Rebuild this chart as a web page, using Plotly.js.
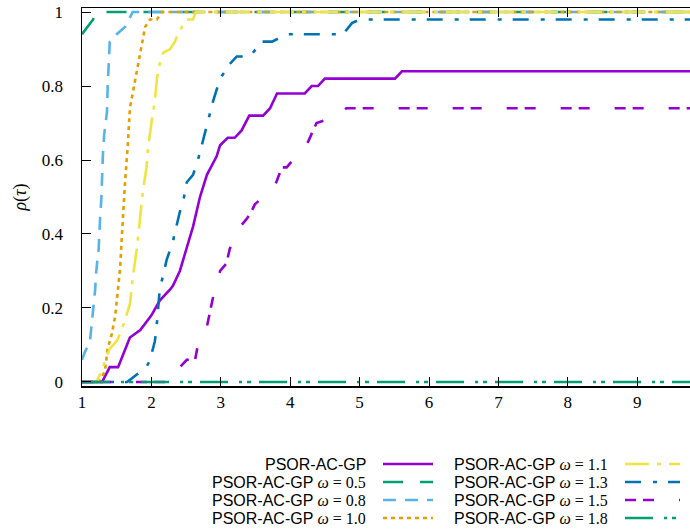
<!DOCTYPE html>
<html>
<head>
<meta charset="utf-8">
<script src="https://cdn.plot.ly/plotly-3.0.1.min.js"></script>
<style>
html,body{margin:0;padding:0;overflow:hidden;background:#fff;}
#chart{width:702px;height:530px;}
</style>
</head>
<body>
<div id="chart"></div>
<script>
// ---- data ----
const xPlain = [1, 1.29, 1.40, 1.52, 1.69, 1.84, 2.00, 2.12, 2.27, 2.31, 2.41, 2.51, 2.60, 2.70, 2.80, 2.94, 2.99, 3.10, 3.20, 3.30, 3.41, 3.61, 3.71, 3.81, 4.21, 4.31, 4.40, 4.50, 5.51, 5.61, 10];
const yPlain = [0, 0, 0.04, 0.04, 0.12, 0.14, 0.18, 0.22, 0.25, 0.26, 0.30, 0.36, 0.42, 0.50, 0.56, 0.61, 0.64, 0.66, 0.66, 0.68, 0.72, 0.72, 0.74, 0.78, 0.78, 0.80, 0.80, 0.82, 0.82, 0.84, 0.84];

const x05 = [1, 1.08, 1.16, 1.20, 10];
const y05 = [0.94, 0.96, 0.98, 1, 1];

const x08 = [1, 1.04, 1.115, 1.16, 1.19, 1.20, 1.24, 1.26, 1.28, 1.30, 1.32, 1.36, 1.37, 1.40, 1.50, 1.62, 1.73, 10];
const y08 = [0.06, 0.08, 0.11, 0.19, 0.25, 0.29, 0.36, 0.44, 0.50, 0.61, 0.67, 0.73, 0.80, 0.92, 0.94, 0.96, 1, 1];

const x10 = [1, 1.25, 1.28, 1.33, 1.37, 1.43, 1.48, 1.52, 1.55, 1.57, 1.59, 1.62, 1.66, 1.69, 1.72, 1.76, 1.81, 1.86, 1.91, 1.98, 2.08, 2.15, 10];
const y10 = [0, 0, 0.01, 0.03, 0.09, 0.13, 0.18, 0.25, 0.31, 0.38, 0.45, 0.54, 0.64, 0.74, 0.77, 0.81, 0.86, 0.92, 0.96, 0.98, 0.98, 1, 1];

const x11 = [1, 1.21, 1.28, 1.40, 1.50, 1.57, 1.64, 1.69, 1.73, 1.79, 1.84, 1.88, 1.93, 1.95, 2.00, 2.05, 2.08, 2.12, 2.17, 2.27, 2.34, 2.38, 2.44, 2.51, 2.60, 2.64, 10];
const y11 = [0, 0, 0.03, 0.09, 0.11, 0.14, 0.18, 0.21, 0.28, 0.36, 0.45, 0.52, 0.58, 0.63, 0.70, 0.76, 0.82, 0.86, 0.89, 0.90, 0.92, 0.94, 0.96, 0.98, 0.98, 1, 1];

const x13 = [1, 1.65, 1.79, 1.93, 1.98, 2.05, 2.08, 2.10, 2.12, 2.22, 2.31, 2.36, 2.41, 2.46, 2.51, 2.60, 2.67, 2.74, 2.82, 2.89, 2.99, 3.13, 3.23, 3.42, 3.59, 3.74, 3.95, 4.14, 4.76, 4.89, 5.00, 10];
const y13 = [0, 0, 0.02, 0.04, 0.06, 0.11, 0.16, 0.21, 0.25, 0.33, 0.38, 0.42, 0.46, 0.49, 0.54, 0.56, 0.60, 0.65, 0.71, 0.76, 0.82, 0.86, 0.88, 0.88, 0.92, 0.92, 0.94, 0.94, 0.94, 0.97, 0.98, 0.98];

const x15 = [1, 2.30, 2.41, 2.51, 2.63, 2.67, 2.80, 2.87, 2.89, 2.99, 3.08, 3.13, 3.28, 3.37, 3.44, 3.49, 3.73, 3.80, 3.88, 3.95, 4.17, 4.26, 4.33, 4.38, 4.69, 4.81, 10];
const y15 = [0, 0, 0.04, 0.06, 0.06, 0.10, 0.15, 0.22, 0.23, 0.30, 0.32, 0.36, 0.42, 0.44, 0.46, 0.48, 0.52, 0.54, 0.58, 0.58, 0.63, 0.65, 0.68, 0.70, 0.72, 0.74, 0.74];

const x18 = [1, 10];
const y18 = [0, 0];

const seriesNames = ['PSOR-AC-GP', 'PSOR-AC-GP ω = 0.5', 'PSOR-AC-GP ω = 0.8', 'PSOR-AC-GP ω = 1.0',
                     'PSOR-AC-GP ω = 1.1', 'PSOR-AC-GP ω = 1.3', 'PSOR-AC-GP ω = 1.5', 'PSOR-AC-GP ω = 1.8'];
const omegaLabels = ['', '0.5', '0.8', '1.0', '1.1', '1.3', '1.5', '1.8'];
const xTicks = [1, 2, 3, 4, 5, 6, 7, 8, 9];
const yTicks = [0, 0.2, 0.4, 0.6, 0.8, 1];

// ---- styles ----
const SERIF = '"Liberation Serif", "DejaVu Serif", serif';
const SANS = '"Liberation Sans", Arial, sans-serif';
const colors = ['#9400D3', '#009E73', '#56B4E9', '#E69F00', '#F0E442', '#0072B2', '#9400D3', '#009E73'];
const dashes = ['solid', '20px,17px', '13px,9px', '4px,4px', '24px,8px,4px,8px', '16px,12px,4px,11px', '11px,7px,11px,25px', '28px,11px,3px,5px,4px,8px'];
const xs = [xPlain, x05, x08, x10, x11, x13, x15, x18];
const ys = [yPlain, y05, y08, y10, y11, y13, y15, y18];

const traces = xs.map((x, i) => ({
  type: 'scatter', mode: 'lines', x: x, y: ys[i], name: seriesNames[i],
  line: {color: colors[i], width: 2.6, dash: dashes[i], shape: 'linear'},
  showlegend: false, hoverinfo: 'skip'
}));

// ---- geometry ----
const W = 702, H = 530;
const M = {l: 82, r: 3, t: 8, b: 144};
const pw = W - M.l - M.r, ph = H - M.t - M.b;
const px2paper = p => (p - M.l) / pw;
const py2paper = p => 1 - (p - M.t) / ph;

// custom key: text right-justified, sample to the right (gnuplot style)
const annotations = [];
const shapes = [];
const rowsY = [464, 482, 500, 518];
const cols = [{textRight: 367, s0: 383, s1: 433}, {textRight: 609, s0: 625, s1: 680}];
for (let i = 0; i < 8; i++) {
  const c = cols[Math.floor(i / 4)];
  const yy = rowsY[i % 4];
  const txt = omegaLabels[i] === '' ? 'PSOR-AC-GP' :
    'PSOR-AC-GP <span style="font-family:\'Liberation Serif\',serif"><i>ω</i>&#8197;=&#8197;' + omegaLabels[i] + '</span>';
  annotations.push({
    xref: 'paper', yref: 'paper', x: px2paper(c.textRight), y: py2paper(yy),
    xanchor: 'right', yanchor: 'middle', showarrow: false, text: txt,
    height: 16, borderpad: 0,
    font: {family: SANS, size: 16, color: '#000'}
  });
  shapes.push({
    type: 'line', xref: 'paper', yref: 'paper',
    x0: px2paper(c.s0), x1: px2paper(c.s1), y0: py2paper(yy), y1: py2paper(yy),
    line: {color: colors[i], width: 2.6, dash: dashes[i]}
  });
}

const layout = {
  width: W, height: H, margin: M,
  paper_bgcolor: '#fff', plot_bgcolor: '#fff',
  showlegend: false,
  font: {family: SERIF, size: 17, color: '#000'},
  xaxis: {
    range: [1, 1 + pw / 69.4], tickvals: xTicks, ticktext: xTicks.map(String),
    showgrid: false, zeroline: false, showline: true, linecolor: '#000', linewidth: 1.5,
    mirror: 'ticks', ticks: 'inside', ticklen: 9, tickwidth: 1, tickcolor: '#000',
    tickfont: {family: SERIF, size: 17, color: '#000'}
  },
  yaxis: {
    range: [-0.011, 1.011], tickvals: yTicks, ticktext: yTicks.map(v => String(v)),
    showgrid: false, zeroline: false, showline: true, linecolor: '#000', linewidth: 1.5,
    mirror: 'ticks', ticks: 'inside', ticklen: 9, tickwidth: 1, tickcolor: '#000',
    ticklabelstandoff: 14,
    tickfont: {family: SERIF, size: 17, color: '#000'},
    title: {text: '<i>ρ</i>(<i>τ</i>)', font: {family: SERIF, size: 18, color: '#000'}, standoff: 10}
  },
  annotations: annotations,
  shapes: shapes
};

Plotly.newPlot('chart', traces, layout, {displayModeBar: false, staticPlot: true});
</script>
</body>
</html>
